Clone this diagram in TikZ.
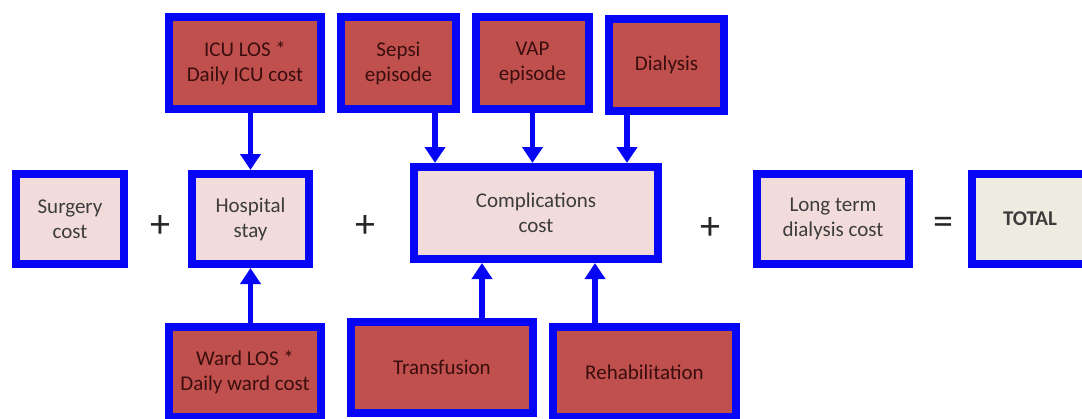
\documentclass[tikz,border=0pt]{standalone}
\usepackage{fontspec}
\setmainfont{Carlito}
\usetikzlibrary{arrows.meta}

\definecolor{edgeblue}{RGB}{6,6,245}
\definecolor{lightpink}{RGB}{242,220,219}
\definecolor{darkred}{RGB}{192,80,77}
\definecolor{paper}{RGB}{238,236,225}
\definecolor{redtext}{RGB}{58,14,14}
\definecolor{greytext}{RGB}{60,60,60}

\begin{document}
\begin{tikzpicture}[x=1pt,y=-1pt,
  box/.style={draw=edgeblue,line width=8pt,align=center,inner sep=0pt,
    minimum height=90pt,font=\fontsize{21}{25}\selectfont},
  termbox/.style={box,fill=lightpink,text=greytext},
  factorbox/.style={box,fill=darkred,text=redtext},
  opsign/.style={font=\fontsize{40}{40}\selectfont,text=black!85},
  arr/.style={edgeblue,line width=5.5pt,-{Triangle[width=20pt,length=16pt]}}]
\useasboundingbox (0,0) rectangle (1082,418);

% middle row: the sum
\node[termbox,minimum width=108pt] (surg) at (70,219) {Surgery\\cost};
\node[termbox,minimum width=117pt] (hosp) at (250.5,219) {Hospital\\stay};
\node[termbox,minimum width=244pt,minimum height=92pt] (compl) at (536,213) {Complications\\cost};
\node[termbox,minimum width=152pt] (ltd) at (833,219) {Long term\\dialysis cost};
\node[termbox,fill=paper,minimum width=116pt] (total) at (1030,219) {\textbf{TOTAL}};

\node[opsign] (plus1) at (160,226) {+};
\node[opsign] (plus2) at (365,226) {+};
\node[opsign] (plus3) at (710,228) {+};
\node[opsign] (equal) at (943,226) {=};

% top row
\node[factorbox,minimum width=152pt,minimum height=92pt] (icu) at (245,63) {ICU LOS *\\Daily ICU cost};
\node[factorbox,minimum width=115pt,minimum height=92pt] (sepsi) at (398.5,63) {Sepsi\\episode};
\node[factorbox,minimum width=113pt,minimum height=92pt] (vap) at (532.5,63) {VAP\\episode};
\node[factorbox,minimum width=115pt,minimum height=92pt] (dial) at (666.5,65) {Dialysis};

% bottom row
\node[factorbox,minimum width=152pt] (ward) at (245,372) {Ward LOS *\\Daily ward cost};
\node[factorbox,minimum width=182pt,minimum height=91pt] (transf) at (442,367.5) {Transfusion};
\node[factorbox,minimum width=183pt] (rehab) at (644.5,372) {Rehabilitation};

\coordinate (sepsi-x) at (435,0);
\coordinate (dial-x) at (627,0);
\coordinate (transf-x) at (482,0);
\coordinate (rehab-x) at (595,0);

\draw[arr] (icu.south -| hosp.north) -- (hosp.north);
\draw[arr] (ward.north -| hosp.south) -- (hosp.south);
\draw[arr] (sepsi.south -| sepsi-x) -- (compl.north -| sepsi-x);
\draw[arr] (vap.south) -- (compl.north -| vap.south);
\draw[arr] (dial.south -| dial-x) -- (compl.north -| dial-x);
\draw[arr] (transf.north -| transf-x) -- (compl.south -| transf-x);
\draw[arr] (rehab.north -| rehab-x) -- (compl.south -| rehab-x);
\end{tikzpicture}
\end{document}
